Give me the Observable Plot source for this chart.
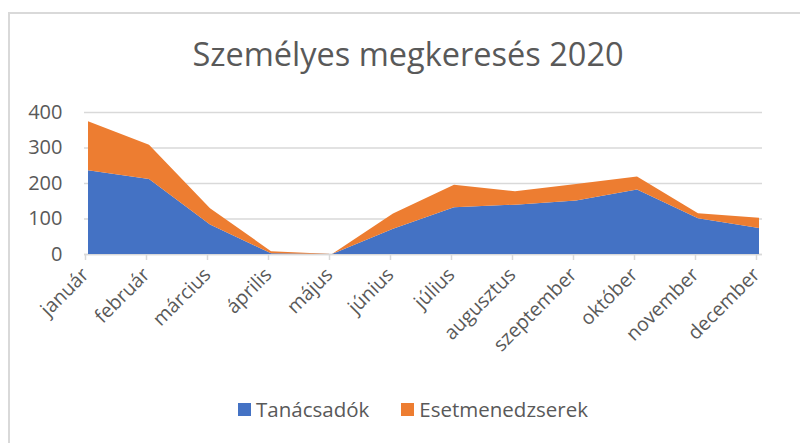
<!DOCTYPE html>
<html>
<head>
<meta charset="utf-8">
<script src="https://cdn.jsdelivr.net/npm/d3@7"></script>
<script src="https://cdn.jsdelivr.net/npm/@observablehq/plot@0.6"></script>
<style>
  html, body { margin: 0; padding: 0; background: #fff; }
  #wrap { position: relative; width: 800px; height: 443px; overflow: hidden; background: #fff; font-family: "Open Sans", sans-serif; color: #595959; }
  #frame { position: absolute; left: 8px; top: 12px; width: 900px; height: 500px; border-left: 2px solid #d9d9d9; border-top: 2px solid #d9d9d9; }
  #title { position: absolute; left: 8px; width: 800px; top: 34px; text-align: center; font-size: 32.5px; line-height: 40px; color: #595959; }
  #chart { position: absolute; left: 0; top: 90px; }
  #legend { position: absolute; top: 397px; left: 13px; width: 800px; display: flex; justify-content: center; gap: 32px; font-size: 20.5px; line-height: 24px; }
  #legend .item { display: flex; align-items: center; gap: 5px; }
  #legend .sw { width: 13px; height: 13px; display: inline-block; }
</style>
</head>
<body>
<div id="wrap">
  <div id="frame"></div>
  <div id="title">Személyes megkeresés 2020</div>
  <div id="chart"></div>
  <div id="legend"></div>
</div>
<script>
const months = ["január","február","március","április","május","június","július","augusztus","szeptember","október","november","december"];
const seriesNames = ["Tanácsadók","Esetmenedzserek"];
const seriesColors = ["#4472C4","#ED7D31"];
const tanacsadok = [236, 211, 83, 2, 0, 71, 132, 139, 151, 182, 101, 73];
const esetmenedzserek = [138, 97, 46, 6, 0, 43, 63, 38, 46, 36, 14, 29];
const yTicks = [0, 100, 200, 300, 400];

const data = months.flatMap((m, i) => [
  {month: m, series: seriesNames[0], value: tanacsadok[i]},
  {month: m, series: seriesNames[1], value: esetmenedzserek[i]}
]);

const plot = Plot.plot({
  width: 800,
  height: 290,
  marginTop: 22,
  marginBottom: 126,
  marginLeft: 84,
  marginRight: 38,
  style: {fontFamily: "'Open Sans', sans-serif", fontSize: "18px", color: "#595959", background: "transparent", overflow: "visible"},
  x: {type: "point", domain: months, padding: 0, label: null},
  y: {domain: [0, 400], label: null},
  color: {domain: seriesNames, range: seriesColors},
  marks: [
    Plot.gridY(yTicks, {stroke: "#d9d9d9", strokeOpacity: 1, strokeWidth: 1.5}),
    Plot.ruleY([0], {stroke: "#d9d9d9", strokeWidth: 1.5}),
    Plot.areaY(data, {x: "month", y: "value", z: "series", fill: "series", fillOpacity: 1}),
    Plot.axisY(yTicks, {tickSize: 0, tickPadding: 22, fontSize: 20, fill: "#595959", label: null}),
    Plot.axisX(months, {tickSize: 6, tickPadding: 11, dx: -3, tickRotate: -45, stroke: "#d9d9d9", strokeWidth: 1.5, fontSize: 19.5, fill: "#595959", label: null})
  ]
});
document.getElementById("chart").appendChild(plot);

const legend = document.getElementById("legend");
seriesNames.forEach((s, i) => {
  const it = document.createElement("div");
  it.className = "item";
  const sw = document.createElement("span");
  sw.className = "sw";
  sw.style.background = seriesColors[i];
  const t = document.createElement("span");
  t.textContent = s;
  it.appendChild(sw); it.appendChild(t);
  legend.appendChild(it);
});
</script>
</body>
</html>
